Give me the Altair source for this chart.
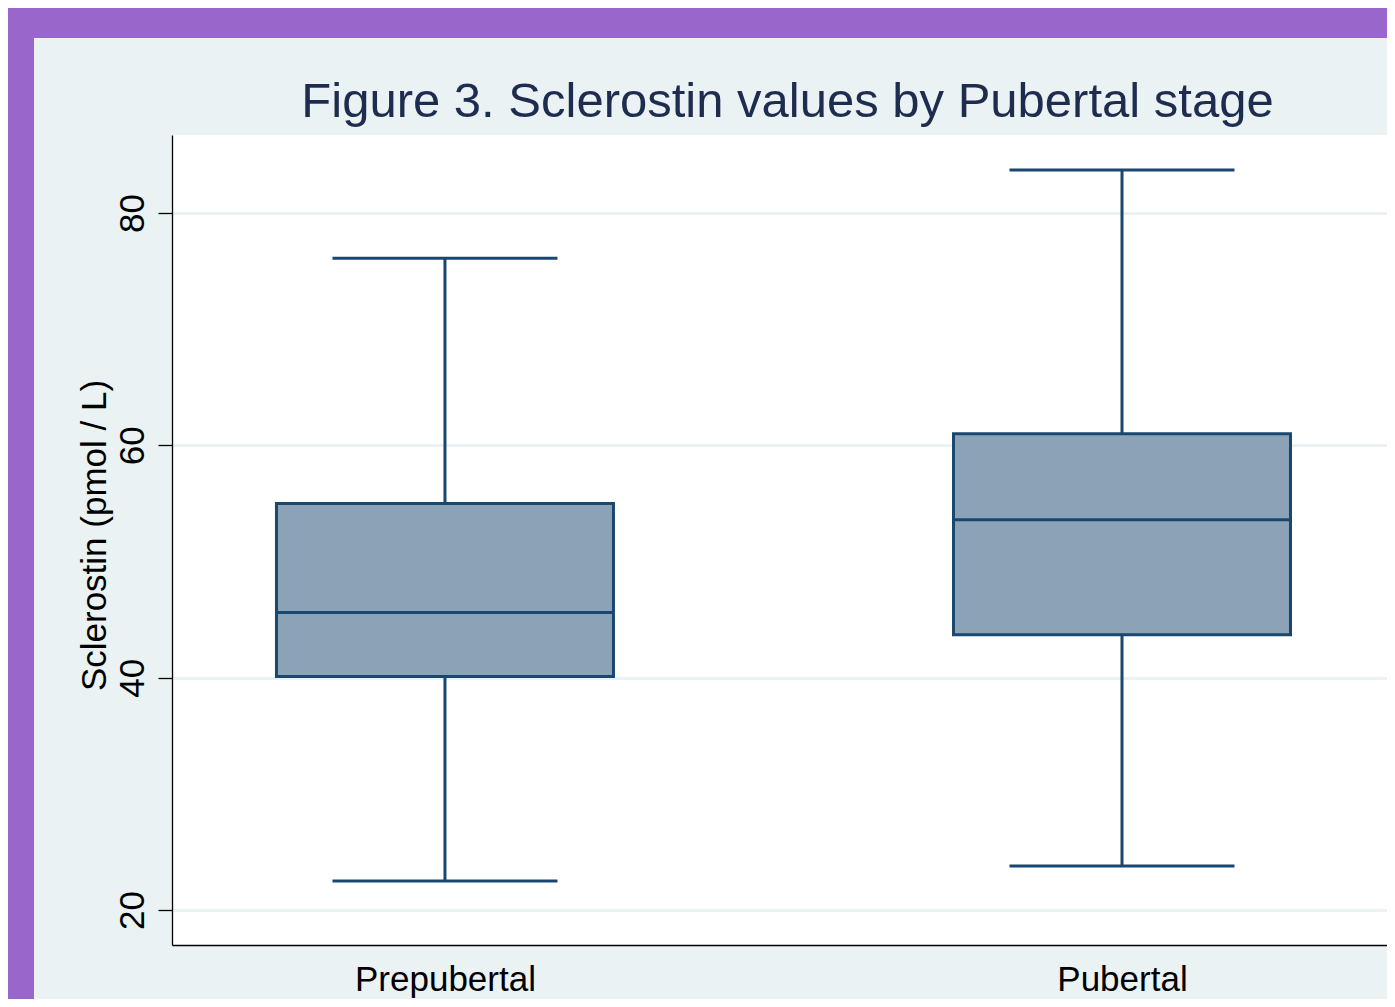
import altair as alt
import pandas as pd

# Data
groups = ["Prepubertal", "Pubertal"]
whisker_low = [22.5, 23.8]
q1 = [40.1, 43.7]
median = [45.6, 53.6]
q3 = [55.0, 61.0]
whisker_high = [76.1, 83.7]
y_ticks = [20, 40, 60, 80]

df = pd.DataFrame({
    "group": groups,
    "lo": whisker_low,
    "q1": q1,
    "med": median,
    "q3": q3,
    "hi": whisker_high,
})

NAVY = "#1A476F"
FILL = "#8CA3B7"
BG = "#EAF2F3"
PURPLE = "#9966CC"
FONT = "Liberation Sans"

W, H = 1215, 810

x_enc = alt.X(
    "group:N",
    sort=groups,
    scale=alt.Scale(type="point", padding=0.3973, align=0.5074),
    axis=alt.Axis(
        title=None, ticks=False, labelAngle=0, labelPadding=17, labelLimit=0,
        labelFontSize=35, labelFont=FONT, labelColor="#000000",
        domainColor="#000000", domainWidth=1.3, grid=False,
    ),
)
y_scale = alt.Scale(domain=[16.99, 86.71], nice=False, zero=False)
y_axis = alt.Axis(
    title="Sclerostin (pmol / L)", values=y_ticks,
    labelAngle=270, labelAlign="center", labelBaseline="alphabetic",
    labelPadding=15, labelFontSize=35, labelFont=FONT, labelColor="#000000",
    tickSize=14, tickColor="#000000", tickWidth=1.3,
    domainColor="#000000", domainWidth=1.3,
    grid=True, gridColor=BG, gridWidth=3,
    titleAngle=270, titleAlign="center", titleBaseline="alphabetic",
    titleX=-67, titleY=400, titleFontSize=35, titleFont=FONT,
    titleFontWeight="normal", titleColor="#000000",
)

base = alt.Chart(df)

whiskers = base.mark_rule(color=NAVY, strokeWidth=3).encode(
    x=x_enc, y=alt.Y("lo:Q", scale=y_scale, axis=y_axis), y2="hi:Q"
)
cap_lo = base.mark_tick(color=NAVY, size=225, thickness=3, opacity=1).encode(
    x=x_enc, y=alt.Y("lo:Q", scale=y_scale)
)
cap_hi = base.mark_tick(color=NAVY, size=225, thickness=3, opacity=1).encode(
    x=x_enc, y=alt.Y("hi:Q", scale=y_scale)
)
box = base.mark_bar(size=337, fill=FILL, stroke=NAVY, strokeWidth=3, opacity=1).encode(
    x=x_enc, y=alt.Y("q1:Q", scale=y_scale), y2="q3:Q"
)
med = base.mark_tick(color=NAVY, size=337, thickness=3, opacity=1).encode(
    x=x_enc, y=alt.Y("med:Q", scale=y_scale)
)

frame = alt.Chart(pd.DataFrame({"k": [0]}))
top_strip = frame.mark_rect(color=PURPLE).encode(
    x=alt.value(-164), x2=alt.value(W), y=alt.value(-127), y2=alt.value(-97)
)
left_strip = frame.mark_rect(color=PURPLE).encode(
    x=alt.value(-164), x2=alt.value(-138), y=alt.value(-127), y2=alt.value(H + 54)
)

chart = alt.layer(
    top_strip, left_strip, whiskers, cap_lo, cap_hi, box, med
).properties(
    width=W, height=H,
    title=alt.TitleParams(
        "Figure 3. Sclerostin values by Pubertal stage",
        fontSize=49, font=FONT, fontWeight="normal", color="#1E2C50",
        frame="group", anchor="middle", baseline="alphabetic", offset=20,
        dx=8, dy=178,
    ),
    autosize=alt.AutoSizeParams(type="none"),
    padding={"left": 164, "top": 127, "right": 0, "bottom": 54},
    background=BG,
).configure_view(
    fill="white", stroke=None
)

chart.save("out.html", embed_options={"renderer": "svg", "actions": False})
